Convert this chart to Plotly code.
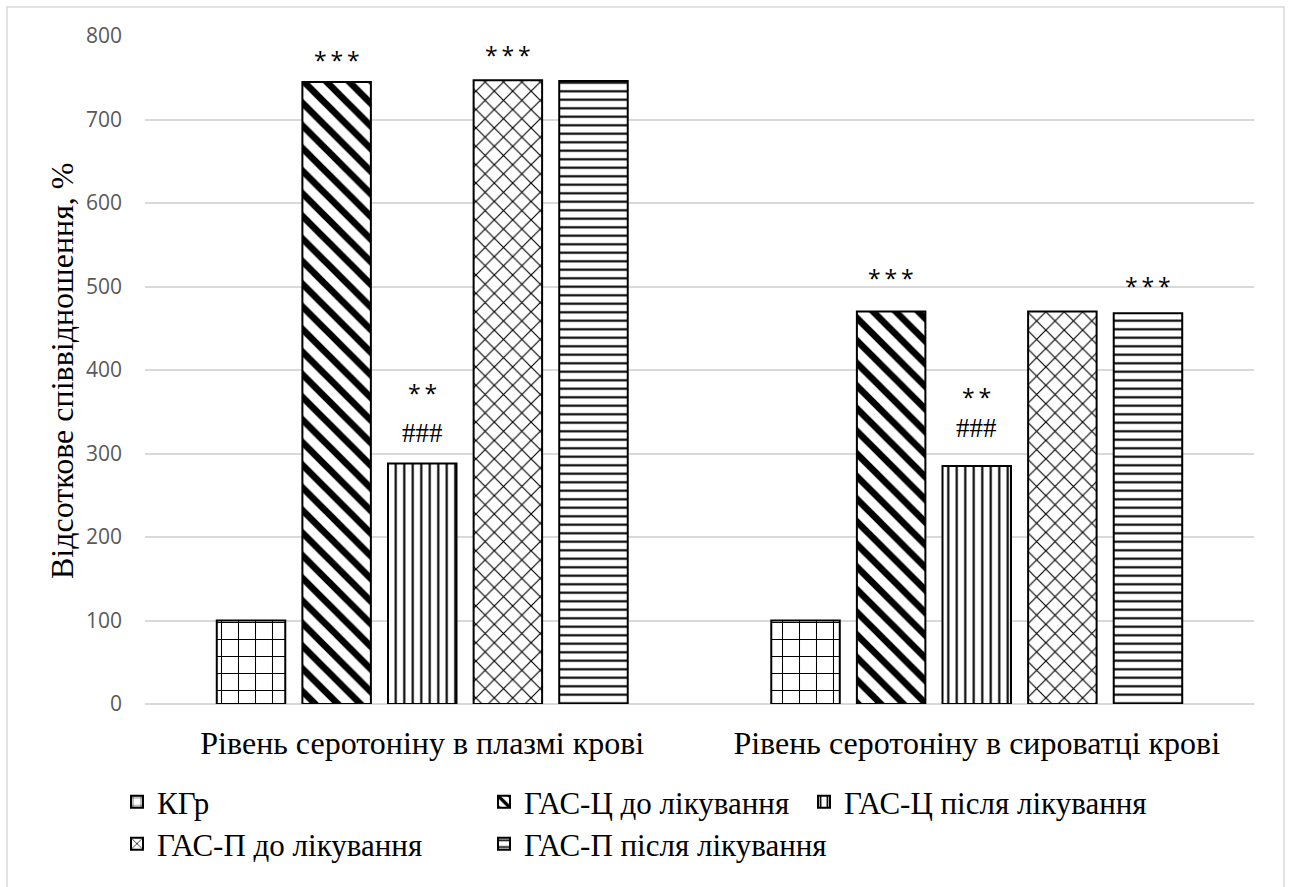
import plotly.graph_objects as go

# Categories and series
categories = ["Рівень серотоніну в плазмі крові", "Рівень серотоніну в сироватці крові"]
series_names = ["КГр", "ГАС-Ц до лікування", "ГАС-Ц після лікування",
                "ГАС-П до лікування", "ГАС-П після лікування"]
kgr = [100, 100]
gas_c_before = [745, 470]
gas_c_after = [288, 285]
gas_p_before = [747, 470]
gas_p_after = [746, 468]

# Significance marks: category index, series index, text
marks_cat = [0, 0, 0, 0, 1, 1, 1, 1]
marks_ser = [1, 2, 2, 3, 1, 2, 2, 4]
marks_txt = ["***", "**", "###", "***", "***", "**", "###", "***"]

y_ticks = [0, 100, 200, 300, 400, 500, 600, 700, 800]

values = [kgr, gas_c_before, gas_c_after, gas_p_before, gas_p_after]
patterns = [
    dict(shape="+", size=17, solidity=0.12),
    dict(shape="\\", size=16, solidity=0.42),
    dict(shape="|", size=8.5, solidity=0.25),
    dict(shape="x", size=13, solidity=0.17),
    dict(shape="-", size=8.5, solidity=0.25),
]

W, H = 1291, 887
ML, MR, MT, MB = 145, 37, 36, 183
PW, PH = W - ML - MR, H - MT - MB

SERIF = '"Liberation Serif", "Times New Roman", Times, serif'
SANS = '"Open Sans", "Noto Sans", sans-serif'

fig = go.Figure()
legend_ids = ["legend", "legend2", "legend3", "legend4", "legend5"]
for i, (name, vals, pat) in enumerate(zip(series_names, values, patterns)):
    fig.add_trace(go.Bar(
        x=categories, y=vals, name=name,
        marker=dict(color="white",
                    line=dict(color="black", width=2),
                    pattern=dict(fgcolor="black", bgcolor="white", fillmode="replace", **pat)),
        legend=legend_ids[i],
    ))

bargap = 0.228
slot = (1 - bargap) / 5


def px_x(px):
    return (px - ML) / PW


def px_y(py):
    return (H - MB - py) / PH


# Legend: three columns, two rows
legend_pos = [(117, 802), (484, 802), (804, 802), (117, 844), (484, 844)]
legend_layout = {}
for lid, (lx, ly) in zip(legend_ids, legend_pos):
    legend_layout[lid] = dict(
        x=px_x(lx), y=px_y(ly), xanchor="left", yanchor="middle",
        orientation="v", bgcolor="rgba(0,0,0,0)",
        font=dict(family=SERIF, size=31, color="black"),
    )

# Significance annotations above bars (vertical offset in px above bar top)
shift_map = {("***", 0, 1): 22, ("***", 0, 3): 25, ("**", 0, 2): 71, ("###", 0, 2): 31,
             ("***", 1, 1): 34, ("***", 1, 4): 27, ("**", 1, 2): 69, ("###", 1, 2): 38}
annotations = []
for c, s, t in zip(marks_cat, marks_ser, marks_txt):
    xpos = c + (s - 2) * slot
    yv = values[s][c]
    is_hash = t.startswith("#")
    shown = t if is_hash else "\u2009".join(t)
    annotations.append(dict(
        x=xpos, y=yv, xref="x", yref="y", text=shown, showarrow=False,
        yanchor="middle", yshift=shift_map[(t, c, s)],
        font=dict(family=SERIF if is_hash else SANS, size=27 if is_hash else 23, color="black"),
    ))

# Y axis title
annotations.append(dict(
    x=px_x(62), y=px_y(371), xref="paper", yref="paper", text="Відсоткове співвідношення, %",
    textangle=-90, showarrow=False, xanchor="center", yanchor="middle",
    font=dict(family=SERIF, size=32, color="black"),
))

fig.update_layout(
    width=W, height=H,
    margin=dict(l=ML, r=MR, t=MT, b=MB, autoexpand=False),
    paper_bgcolor="white", plot_bgcolor="white",
    barmode="group", bargap=bargap, bargroupgap=0.2,
    showlegend=True,
    annotations=annotations,
    shapes=[dict(type="rect", xref="paper", yref="paper",
                 x0=px_x(7), x1=px_x(1284), y0=px_y(895), y1=px_y(7),
                 line=dict(color="#d9d9d9", width=1.5), fillcolor="rgba(0,0,0,0)", layer="below")],
    **legend_layout,
)
fig.update_xaxes(
    showgrid=False, showline=False, ticks="", automargin=False,
    tickfont=dict(family=SERIF, size=32, color="black"), ticklabelstandoff=17,
)
fig.update_yaxes(
    range=[0, 800], tickvals=y_ticks, showgrid=True, gridcolor="#d9d9d9", gridwidth=1.5,
    zeroline=True, zerolinecolor="#d9d9d9", zerolinewidth=1.5, showline=False, ticks="",
    automargin=False, tickfont=dict(family=SANS, size=21, color="#595959"), ticklabelstandoff=22,
)

fig.write_html("out.html")
